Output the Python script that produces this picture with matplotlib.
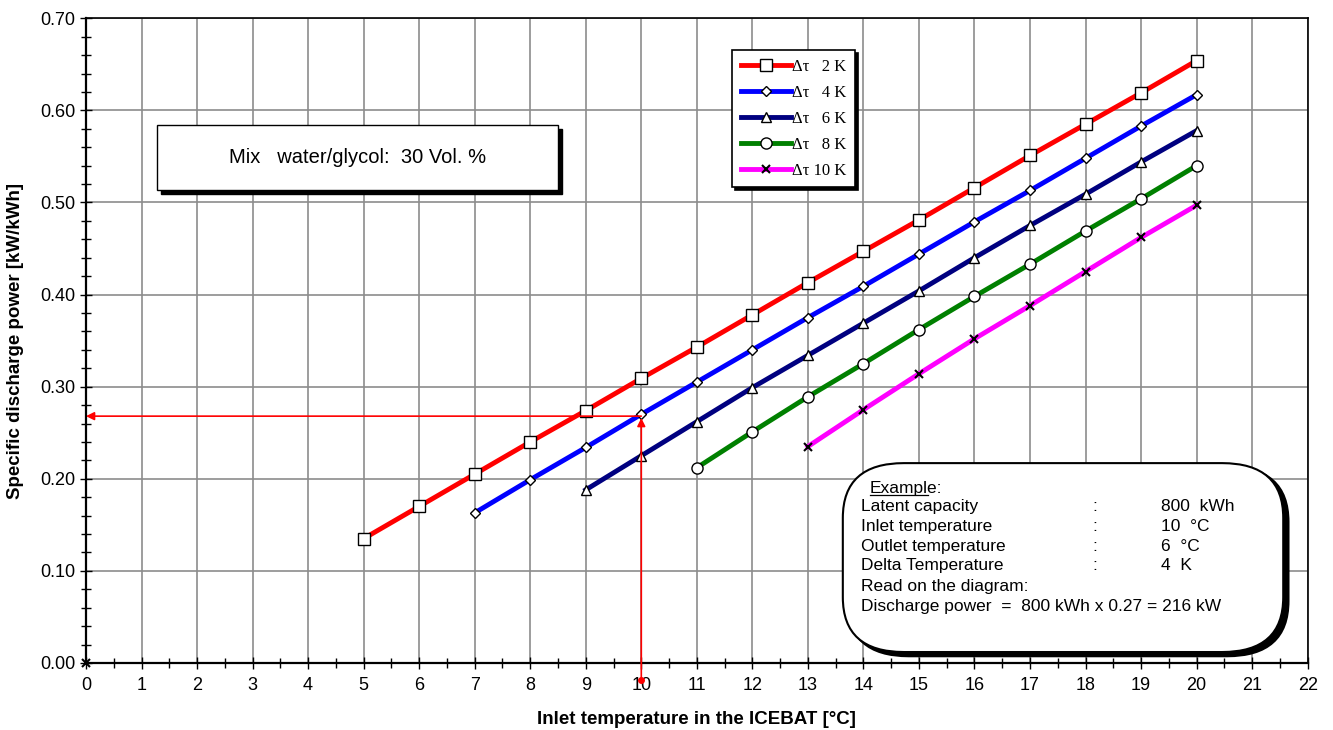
import matplotlib
matplotlib.use("Agg")
import matplotlib.pyplot as plt
from matplotlib.patches import FancyBboxPatch, Rectangle
from matplotlib.ticker import MultipleLocator

plt.rcParams['font.family'] = ['Liberation Sans', 'DejaVu Sans']

# Specific discharge power vs inlet temperature, one series per delta T
temp_2k = [5, 6, 7, 8, 9, 10, 11, 12, 13, 14, 15, 16, 17, 18, 19, 20]
power_2k = [0.135, 0.170, 0.205, 0.240, 0.274, 0.309, 0.343, 0.378,
            0.413, 0.447, 0.481, 0.516, 0.551, 0.585, 0.619, 0.654]
temp_4k = [7, 8, 9, 10, 11, 12, 13, 14, 15, 16, 17, 18, 19, 20]
power_4k = [0.163, 0.199, 0.234, 0.270, 0.305, 0.340, 0.375,
            0.409, 0.444, 0.479, 0.513, 0.548, 0.583, 0.617]
temp_6k = [9, 10, 11, 12, 13, 14, 15, 16, 17, 18, 19, 20]
power_6k = [0.188, 0.225, 0.262, 0.299, 0.334, 0.369,
            0.404, 0.440, 0.475, 0.509, 0.544, 0.578]
temp_8k = [11, 12, 13, 14, 15, 16, 17, 18, 19, 20]
power_8k = [0.212, 0.251, 0.289, 0.325, 0.362, 0.398, 0.433, 0.469, 0.504, 0.540]
temp_10k = [13, 14, 15, 16, 17, 18, 19, 20]
power_10k = [0.235, 0.275, 0.314, 0.352, 0.388, 0.425, 0.462, 0.497]

series_labels = ['Δτ   2 K', 'Δτ   4 K', 'Δτ   6 K', 'Δτ   8 K', 'Δτ 10 K']

# worked example
example_temp = 10
example_power = 0.268

fig = plt.figure(figsize=(13.33, 7.3), dpi=100)
ax = fig.add_axes([0.0645, 0.0918, 0.9165, 0.8832])

styles = [
    (temp_2k, power_2k, 'red', 's', 8),
    (temp_4k, power_4k, 'blue', 'D', 5.5),
    (temp_6k, power_6k, '#000080', '^', 7),
    (temp_8k, power_8k, 'green', 'o', 8),
    (temp_10k, power_10k, 'magenta', 'x', 6),
]
for (xs, ys, col, mk, ms), lab in zip(styles, series_labels):
    if mk == 'x':
        ax.plot(xs, ys, color=col, lw=3.5, marker=mk, ms=ms, mec='black',
                mew=1.5, label=lab, zorder=3)
    else:
        ax.plot(xs, ys, color=col, lw=3.5, marker=mk, ms=ms, mfc='white',
                mec='black', mew=1.0, label=lab, zorder=3)

# origin marker
ax.plot([0], [0], marker='x', color='black', ms=6, mew=1.5, clip_on=False, zorder=5)

# reading arrows
ax.annotate('', xy=(0.0, example_power), xytext=(example_temp, example_power),
            arrowprops=dict(arrowstyle='-|>', color='red', lw=1.2, mutation_scale=12,
                            shrinkA=0, shrinkB=0),
            zorder=4)
ax.annotate('', xy=(example_temp, example_power - 0.002), xytext=(example_temp, -0.018),
            arrowprops=dict(arrowstyle='-|>', color='red', lw=1.2, mutation_scale=12,
                            shrinkA=0, shrinkB=0),
            zorder=4, annotation_clip=False)
ax.plot([example_temp], [-0.018], marker='o', color='red', ms=4, clip_on=False, zorder=4)

ax.set_xlim(0, 22)
ax.set_ylim(0, 0.70)
ax.xaxis.set_major_locator(MultipleLocator(1))
ax.xaxis.set_minor_locator(MultipleLocator(0.5))
ax.yaxis.set_major_locator(MultipleLocator(0.1))
ax.yaxis.set_minor_locator(MultipleLocator(0.02))
ax.yaxis.set_major_formatter(plt.FormatStrFormatter('%.2f'))
ax.tick_params(which='both', direction='inout', labelsize=13, width=1)
ax.tick_params(which='major', length=8)
ax.tick_params(which='minor', length=7)
ax.tick_params(axis='x', which='major', pad=6)
ax.grid(True, which='major', color='#8c8c8c', lw=1.2)
ax.set_axisbelow(True)
for sp in ax.spines.values():
    sp.set_linewidth(1.2)
ax.spines['left'].set_linewidth(1.6)
ax.spines['bottom'].set_linewidth(1.6)

ax.set_xlabel('Inlet temperature in the ICEBAT [°C]', fontsize=13.5, fontweight='bold',
              labelpad=12)
ax.set_ylabel('Specific discharge power [kW/kWh]', fontsize=13.5, fontweight='bold',
              labelpad=12)

leg = ax.legend(loc='upper left', bbox_to_anchor=(0.529, 0.950), numpoints=1,
                handlelength=3.0, handletextpad=0.1, labelspacing=0.6,
                borderpad=0.5, borderaxespad=0, fancybox=False,
                shadow={'color': 'black', 'alpha': 1},
                edgecolor='black', framealpha=1,
                prop={'family': 'Liberation Serif', 'size': 12})
leg.get_frame().set_linewidth(1.2)

# mixture label box with drop shadow
ax.add_patch(Rectangle((0.0615, 0.727), 0.328, 0.101, transform=ax.transAxes,
                       facecolor='black', edgecolor='black', zorder=5))
ax.add_patch(Rectangle((0.0585, 0.733), 0.328, 0.101, transform=ax.transAxes,
                       facecolor='white', edgecolor='black', lw=1.0, zorder=6))
ax.text(0.2225, 0.7835, 'Mix   water/glycol:  30 Vol. %', transform=ax.transAxes,
        ha='center', va='center', fontsize=14.5, zorder=7)

# worked example box
box_kw = dict(transform=ax.transAxes, boxstyle='round,pad=0,rounding_size=0.05',
              mutation_aspect=1.7)
ax.add_patch(FancyBboxPatch((0.6235, 0.011), 0.3605, 0.293, facecolor='black',
                            edgecolor='black', lw=2, zorder=5, **box_kw))
ax.add_patch(FancyBboxPatch((0.6195, 0.017), 0.3605, 0.293, facecolor='white',
                            edgecolor='black', lw=1.5, zorder=6, **box_kw))
rows = [
    ('Latent capacity', '800  kWh'),
    ('Inlet temperature', '10  °C'),
    ('Outlet temperature', '6  °C'),
    ('Delta Temperature', '4  K'),
]
x0 = 0.634
fs = 12.5
ax.text(x0 + 0.0075, 0.271, 'Example:', transform=ax.transAxes, fontsize=fs,
        va='center', zorder=7)
ax.plot([x0 + 0.0075, x0 + 0.0555], [0.2605, 0.2605], transform=ax.transAxes,
        color='black', lw=0.9, zorder=7)
for i, (name, val) in enumerate(rows):
    yy = 0.242 - i * 0.0305
    ax.text(x0, yy, name, transform=ax.transAxes, fontsize=fs, va='center', zorder=7)
    ax.text(0.824, yy, ':', transform=ax.transAxes, fontsize=fs, va='center', zorder=7)
    ax.text(0.880, yy, val, transform=ax.transAxes, fontsize=fs, va='center', zorder=7)
ax.text(x0, 0.119, 'Read on the diagram:', transform=ax.transAxes, fontsize=fs,
        va='center', zorder=7)
ax.text(x0, 0.088, 'Discharge power  =  800 kWh x 0.27 = 216 kW', transform=ax.transAxes,
        fontsize=fs, va='center', zorder=7)

fig.savefig('out.png', dpi=100)
